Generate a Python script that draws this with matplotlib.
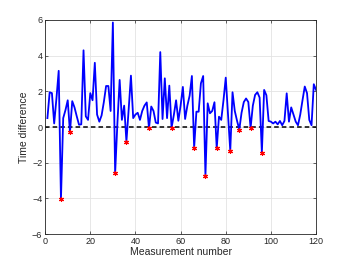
import numpy as np
import matplotlib
matplotlib.use("Agg")
import matplotlib.pyplot as plt

diff = [0.5, 1.95, 1.9, 0.2, 1.6, 3.15, -4.06, 0.5, 0.95, 1.5,
        -0.3, 1.45, 1.1, 0.6, 0.13, 0.15, 4.3, 0.6, 0.4, 1.9,
        1.5, 3.6, 0.7, 0.3, 0.65, 1.4, 2.3, 2.3, 0.9, 5.86,
        -2.6, 0.2, 2.64, 0.4, 1.2, -0.82, 1.0, 2.88, 0.5, 0.7,
        0.8, 0.4, 0.9, 1.2, 1.38, -0.07, 1.15, 0.9, 0.25, 0.2,
        4.2, 0.45, 2.73, 0.5, 2.32, -0.04, 0.67, 1.5, 0.35, 1.2,
        2.25, 0.45, 1.2, 1.76, 2.86, -1.16, 0.86, 0.86, 2.45, 2.86,
        -2.75, 1.33, 0.77, 0.9, 1.39, -1.2, 0.58, 0.4, 1.5, 2.77,
        0.7, -1.33, 1.95, 0.9, 0.35, -0.14, 0.8, 1.4, 1.6, 1.4,
        -0.05, 1.2, 1.8, 1.95, 1.65, -1.43, 2.08, 1.78, 0.34, 0.3,
        0.2, 0.3, 0.15, 0.34, 0.1, 0.34, 1.89, 0.3, 1.1, 0.7,
        0.3, 0.1, 0.7, 1.5, 2.27, 1.9, 0.4, 0.1, 2.4, 2.08]

n = np.arange(1, len(diff) + 1)
diff = np.array(diff)
neg = diff < 0

plt.rcParams['font.family'] = ['Liberation Sans', 'DejaVu Sans']

fig = plt.figure(figsize=(3.5, 2.63), dpi=100)
ax = fig.add_axes([0.129, 0.110, 0.774, 0.814])

ax.plot(n, diff, color='blue', lw=1.3, zorder=3)
ax.axhline(0, color='black', ls='--', lw=1.1, dashes=(3, 2), zorder=2)
ax.plot(n[neg], diff[neg], ls='none', marker=(6, 2, 0), ms=3.6,
        mec='red', mew=0.8, zorder=4)

ax.set_xlim(0, 120)
ax.set_ylim(-6, 6)
ax.set_xticks(np.arange(0, 121, 20))
ax.set_yticks(np.arange(-6, 7, 2))
ax.grid(True, color='#e3e3e3', lw=0.6)
ax.set_axisbelow(True)
ax.tick_params(labelsize=6.5, length=2.5, width=0.5, direction='in',
               top=True, right=True, color='#262626', labelcolor='#262626', pad=2)
for s in ax.spines.values():
    s.set_color('#262626')
    s.set_linewidth(0.6)

ax.set_xlabel("Measurement number", fontsize=7.5, labelpad=1, color='#262626')
ax.set_ylabel("Time difference", fontsize=7.5, labelpad=2, color='#262626')

fig.savefig("out.png", dpi=100)
